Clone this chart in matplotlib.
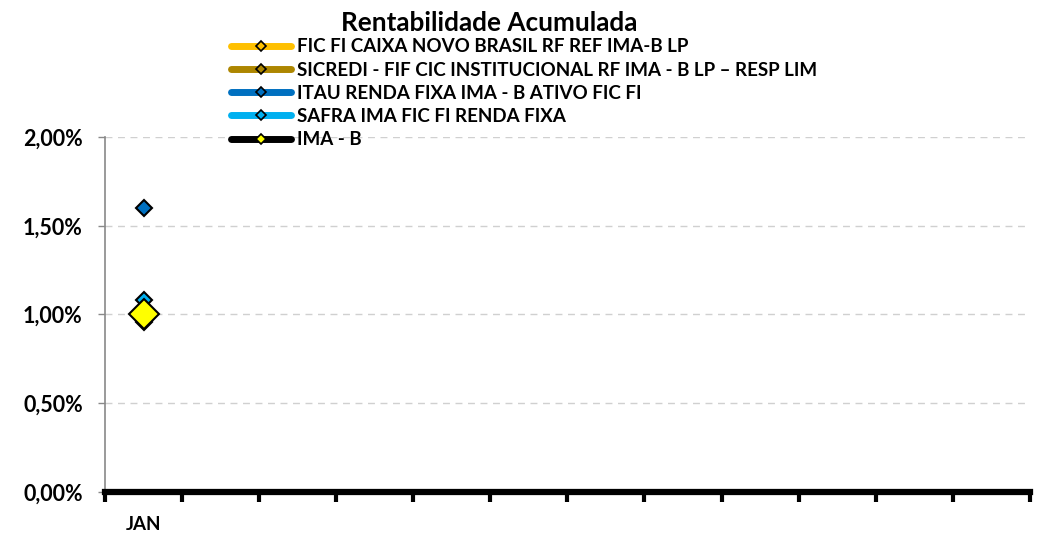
import matplotlib
matplotlib.use("Agg")
import matplotlib.pyplot as plt
from matplotlib.lines import Line2D
from matplotlib.ticker import FuncFormatter, MultipleLocator, FixedLocator

plt.rcParams["font.family"] = ["Lato", "DejaVu Sans"]
plt.rcParams["font.weight"] = "bold"

months = ["JAN", "", "", "", "", "", "", "", "", "", "", ""]
series_names = [
    "FIC FI CAIXA NOVO BRASIL RF REF IMA-B LP",
    "SICREDI - FIF CIC INSTITUCIONAL RF IMA - B LP \u2013 RESP LIM",
    "ITAU RENDA FIXA IMA - B ATIVO FIC FI",
    "SAFRA IMA FIC FI RENDA FIXA",
    "IMA - B",
]
# accumulated return (%), only January available
caixa = [0.96]
sicredi = [0.97]
itau = [1.60]
safra = [1.08]
imab = [1.00]

line_colors = ["#FFC000", "#AD8600", "#0070C0", "#00B0F0", "#000000"]
marker_faces = ["#FFC000", "#AD8600", "#0070C0", "#00B0F0", "#FFFF00"]

fig = plt.figure(figsize=(10.53, 5.34), dpi=100)
ax = fig.add_axes([0.0997, 0.0787, 0.8783, 0.6647])

values = [caixa, sicredi, itau, safra, imab]
sizes = [8, 8, 8, 8, 15]
for vals, lc, mf, ms in zip(values, line_colors, marker_faces, sizes):
    xs = list(range(len(vals)))
    ax.plot(xs, vals, color=lc, lw=4, marker="D", markersize=ms,
            markerfacecolor=mf, markeredgecolor="black", markeredgewidth=1.5,
            zorder=3)

ax.set_xlim(-0.5, len(months) - 0.5)
ax.set_ylim(0, 2.0)
ax.yaxis.set_major_locator(MultipleLocator(0.5))
ax.yaxis.set_major_formatter(FuncFormatter(lambda v, p: f"{v:.2f}%".replace(".", ",")))
ax.set_xticks(range(len(months)))
ax.set_xticklabels(months, fontsize=13.5, fontweight="bold")
ax.tick_params(axis="x", which="major", length=0, pad=17)
ax.xaxis.set_minor_locator(FixedLocator([i - 0.5 for i in range(len(months) + 1)]))
ax.tick_params(axis="x", which="minor", length=7, width=3, color="black", direction="out")
ax.tick_params(axis="y", length=5, width=1, color="#898989", labelsize=15.5, pad=11)
for lab in ax.get_yticklabels():
    lab.set_fontweight("bold")

ax.grid(axis="y", linestyle=(0, (5, 4)), color="#D0D0D0", lw=1)
ax.set_axisbelow(True)
for side in ["top", "right"]:
    ax.spines[side].set_visible(False)
ax.spines["left"].set_color("#898989")
ax.spines["left"].set_linewidth(1.2)
ax.spines["bottom"].set_color("black")
ax.spines["bottom"].set_linewidth(4.5)

fig.text(0.465, 0.957, "Rentabilidade Acumulada", ha="center", va="center",
         fontsize=18.8, fontweight="bold")

handles = []
for lc, mf in zip(line_colors, marker_faces):
    handles.append(Line2D([0], [0], color=lc, lw=5, solid_capstyle="round",
                          marker="D", markersize=5.5,
                          markerfacecolor=mf, markeredgecolor="black",
                          markeredgewidth=1.2))
fig.legend(handles, series_names, loc="upper left",
           bbox_to_anchor=(222 / 1053, 1 - 29 / 534), frameon=False,
           borderpad=0, handlelength=3.2, handletextpad=0.32, labelspacing=0.33,
           prop={"size": 13.5, "weight": "bold"})

fig.savefig("out.png", dpi=100)
